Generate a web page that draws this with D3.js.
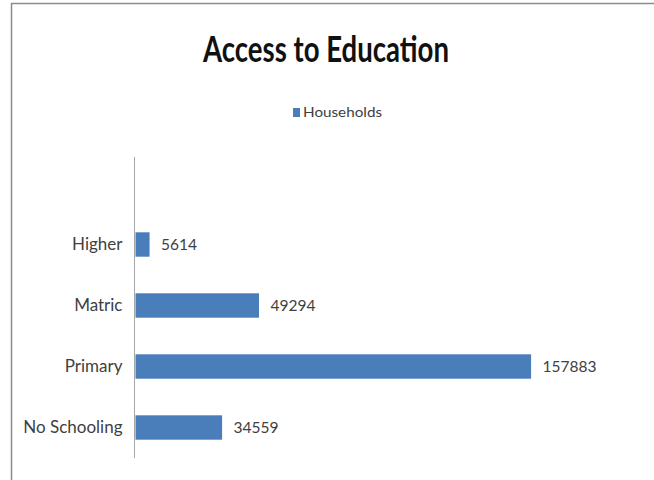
<!DOCTYPE html>
<html>
<head>
<meta charset="utf-8">
<script src="https://cdn.jsdelivr.net/npm/d3@7"></script>
<style>
  html, body { margin: 0; padding: 0; background: #fff; }
  svg { display: block; }
  text { font-family: Lato, "Open Sans", sans-serif; }
</style>
</head>
<body>
<svg id="chart" width="654" height="480"></svg>
<script>
// Data
const title = "Access to Education";
const seriesName = "Households";
const categories = ["Higher", "Matric", "Primary", "No Schooling"];
const households = [5614, 49294, 157883, 34559];
const xMax = 180000;

const svg = d3.select("#chart");
const barColor = "#4a7ebb";
const textColor = "#404040";

// Chart frame
svg.append("path")
  .attr("d", "M11.5,480 V3.5 H654")
  .attr("fill", "none")
  .attr("stroke", "#8c8c8c")
  .attr("stroke-width", 1.5);

// Title
svg.append("text")
  .attr("x", 326).attr("y", 62)
  .attr("text-anchor", "middle")
  .attr("font-size", 36)
  .attr("font-weight", "bold")
  .attr("fill", "#111")
  .attr("textLength", 246)
  .attr("lengthAdjust", "spacingAndGlyphs")
  .text(title);

// Legend
const legend = svg.append("g").attr("transform", "translate(293,108)");
legend.append("rect").attr("width", 7).attr("height", 9).attr("fill", barColor);
legend.append("text")
  .attr("x", 10).attr("y", 9)
  .attr("font-size", 14)
  .attr("fill", textColor)
  .attr("textLength", 79)
  .attr("lengthAdjust", "spacingAndGlyphs")
  .text(seriesName);

// Scales
const x = d3.scaleLinear().domain([0, xMax]).range([135, 586]);
const y = d3.scaleBand()
  .domain(categories)
  .range([214, 458])
  .paddingInner(0.6)
  .paddingOuter(0.3);

// Category axis (line spans the full plot height)
svg.append("line")
  .attr("x1", 134.5).attr("x2", 134.5)
  .attr("y1", 157).attr("y2", 458)
  .attr("stroke", "#a6a6a6")
  .attr("stroke-width", 1);

const yAxis = d3.axisLeft(y).tickSize(0).tickPadding(12);
const gAxis = svg.append("g")
  .attr("transform", "translate(134.5,0)")
  .call(yAxis);
gAxis.select(".domain").remove();
gAxis.selectAll("text")
  .attr("font-size", 17)
  .attr("fill", textColor)
  .style("font-family", "Lato, 'Open Sans', sans-serif")
  .attr("x", -12);

// Bars
svg.append("g").selectAll("rect")
  .data(categories)
  .join("rect")
  .attr("x", x(0) + 0.5)
  .attr("y", d => y(d))
  .attr("width", (d, i) => x(households[i]) - x(0))
  .attr("height", y.bandwidth())
  .attr("fill", barColor);

// Value labels
svg.append("g").selectAll("text")
  .data(categories)
  .join("text")
  .attr("x", (d, i) => x(households[i]) + 12)
  .attr("y", d => y(d) + y.bandwidth() / 2)
  .attr("dy", "0.35em")
  .attr("font-size", 16)
  .attr("fill", textColor)
  .attr("textLength", (d, i) => String(households[i]).length * 9)
  .attr("lengthAdjust", "spacingAndGlyphs")
  .text((d, i) => households[i]);
</script>
</body>
</html>
